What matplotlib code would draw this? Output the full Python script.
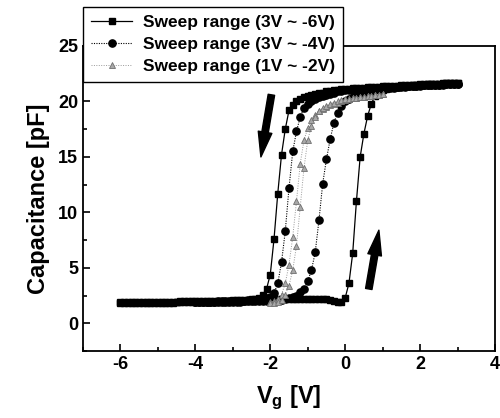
import numpy as np
import matplotlib
matplotlib.use("Agg")
import matplotlib.pyplot as plt
from matplotlib.ticker import MultipleLocator

plt.rcParams['font.family'] = ['Liberation Sans', 'DejaVu Sans']
plt.rcParams['font.weight'] = 'bold'
plt.rcParams['axes.unicode_minus'] = False
plt.rcParams['mathtext.fontset'] = 'custom'
plt.rcParams['mathtext.rm'] = 'Liberation Sans:bold'
plt.rcParams['mathtext.bf'] = 'Liberation Sans:bold'
plt.rcParams['mathtext.it'] = 'Liberation Sans:bold'

# sweep voltage grids (0.1 V steps), taken from the legend ranges
v_sq_down = np.round(np.linspace(3.0, -6.0, 91), 1)
v_ci_down = np.round(np.linspace(3.0, -4.0, 71), 1)
v_tr_down = np.round(np.linspace(1.0, -2.0, 31), 1)

# capacitance [pF]
c_sq_down = [21.7, 21.7, 21.7, 21.7, 21.7, 21.6, 21.6, 21.6, 21.6, 21.6,
             21.6, 21.5, 21.5, 21.5, 21.5, 21.5, 21.4, 21.4, 21.4, 21.4,
             21.4, 21.3, 21.3, 21.3, 21.3, 21.2, 21.2, 21.2, 21.2, 21.1,
             21.1, 21.1, 21.0, 21.0, 20.9, 20.9, 20.8, 20.8, 20.7, 20.6,
             20.5, 20.4, 20.2, 20.0, 19.7, 19.2, 17.5, 15.2, 11.7, 7.6,
             4.4, 3.1, 2.6, 2.3, 2.2, 2.2, 2.1, 2.1, 2.1, 2.1,
             2.1, 2.0, 2.0, 2.0, 2.0, 2.0, 2.0, 2.0, 2.0, 2.0,
             2.0, 2.0, 2.0, 2.0, 2.0, 1.9, 1.9, 1.9, 1.9, 1.9,
             1.9, 1.9, 1.9, 1.9, 1.9, 1.9, 1.9, 1.9, 1.9, 1.9,
             1.9]
c_sq_up = [1.8, 1.8, 1.8, 1.8, 1.8, 1.8, 1.8, 1.8, 1.8, 1.8,
           1.8, 1.8, 1.8, 1.8, 1.8, 1.9, 1.9, 1.9, 1.9, 1.9,
           1.9, 1.9, 1.9, 1.9, 1.9, 1.9, 1.9, 1.9, 1.9, 1.9,
           2.0, 2.0, 2.0, 2.0, 2.0, 2.0, 2.1, 2.1, 2.1, 2.1,
           2.1, 2.2, 2.2, 2.2, 2.2, 2.2, 2.2, 2.2, 2.2, 2.2,
           2.2, 2.2, 2.2, 2.2, 2.2, 2.2, 2.1, 2.0, 1.9, 1.9,
           2.3, 3.6, 6.3, 11.0, 15.0, 17.1, 18.7, 19.8, 20.5, 20.8,
           21.0, 21.1, 21.2, 21.3, 21.3, 21.4, 21.4, 21.4, 21.5, 21.5,
           21.5, 21.5, 21.6, 21.6, 21.6, 21.6, 21.6, 21.7, 21.7, 21.7,
           21.7]

c_ci_down = [21.6, 21.6, 21.6, 21.6, 21.6, 21.5, 21.5, 21.5, 21.5, 21.5,
             21.5, 21.4, 21.4, 21.4, 21.4, 21.4, 21.3, 21.3, 21.3, 21.3,
             21.3, 21.2, 21.2, 21.2, 21.2, 21.1, 21.1, 21.1, 21.0, 21.0,
             21.0, 20.9, 20.9, 20.8, 20.7, 20.6, 20.5, 20.4, 20.2, 20.0,
             19.8, 19.4, 18.6, 17.3, 15.5, 12.2, 8.3, 5.5, 3.6, 2.7,
             2.4, 2.3, 2.2, 2.2, 2.1, 2.1, 2.1, 2.0, 2.0, 2.0,
             2.0, 2.0, 2.0, 2.0, 2.0, 1.9, 1.9, 1.9, 1.9, 1.9,
             1.9]
c_ci_up = [1.9, 1.9, 1.9, 1.9, 1.9, 1.9, 1.9, 1.9, 1.9, 1.9,
           1.9, 1.9, 1.9, 2.0, 2.0, 2.0, 2.0, 2.0, 2.0, 2.0,
           2.0, 2.0, 2.1, 2.1, 2.2, 2.3, 2.4, 2.5, 2.8, 3.1,
           3.8, 4.8, 6.4, 9.3, 12.6, 14.8, 16.6, 18.1, 19.0, 19.6,
           20.0, 20.2, 20.4, 20.5, 20.7, 20.8, 20.9, 21.0, 21.0, 21.1,
           21.1, 21.2, 21.2, 21.2, 21.3, 21.3, 21.3, 21.4, 21.4, 21.4,
           21.4, 21.5, 21.5, 21.5, 21.5, 21.5, 21.5, 21.6, 21.6, 21.6,
           21.6]

c_tr_down = [20.7, 20.6, 20.6, 20.5, 20.5, 20.4, 20.4, 20.3, 20.3, 20.2,
             20.1, 20.0, 19.9, 19.8, 19.7, 19.5, 19.3, 19.1, 18.8, 18.3,
             17.6, 16.5, 14.4, 11.0, 7.8, 5.3, 3.6, 2.6, 2.2, 2.0,
             1.9]
c_tr_up = [1.8, 1.8, 1.9, 2.1, 2.6, 3.4, 4.8, 7.0, 10.5, 14.0,
           16.5, 17.8, 18.6, 19.1, 19.4, 19.6, 19.8, 19.9, 20.0, 20.1,
           20.2, 20.2, 20.3, 20.3, 20.4, 20.4, 20.5, 20.5, 20.6, 20.6,
           20.7]

labels = ['Sweep range (3V ~ -6V)', 'Sweep range (3V ~ -4V)',
          'Sweep range (1V ~ -2V)']

fig = plt.figure(figsize=(5, 4.18), dpi=100)
ax = fig.add_axes([0.166, 0.160, 0.824, 0.730])

# squares, solid line
ax.plot(np.concatenate([v_sq_down, v_sq_down[::-1]]), c_sq_down + c_sq_up,
        '-', color='k', lw=0.9, marker='s', ms=5.0, mfc='k', mec='k',
        label=labels[0])
# circles, dotted line
ax.plot(np.concatenate([v_ci_down, v_ci_down[::-1]]), c_ci_down + c_ci_up,
        color='k', lw=0.8, ls=(0, (1, 1.2)), marker='o', ms=5.2,
        mfc='k', mec='k', label=labels[1])
# triangles, grey
ax.plot(np.concatenate([v_tr_down, v_tr_down[::-1]]), c_tr_down + c_tr_up,
        color='#999999', lw=0.7, ls=(0, (1, 1.5)), marker='^', ms=5.0,
        mfc='#a8a8a8', mec='#707070', mew=0.6, label=labels[2])

# sweep direction arrows
arrow = dict(arrowstyle='simple,head_length=1.0,head_width=0.55,tail_width=0.26',
             color='k', mutation_scale=18, shrinkA=0, shrinkB=0)
ax.annotate('', xy=(-2.25, 15.0), xytext=(-1.97, 20.6), arrowprops=arrow)
ax.annotate('', xy=(0.9, 8.4), xytext=(0.63, 3.1), arrowprops=arrow)

ax.set_xlim(-7, 4)
ax.set_ylim(-2.5, 25)
ax.xaxis.set_major_locator(MultipleLocator(2))
ax.xaxis.set_minor_locator(MultipleLocator(1))
ax.yaxis.set_major_locator(MultipleLocator(5))
ax.yaxis.set_minor_locator(MultipleLocator(2.5))
ax.tick_params(which='both', direction='in', labelsize=13, width=1.2)
ax.tick_params(which='major', length=5)
ax.tick_params(which='minor', length=3)
for s in ax.spines.values():
    s.set_linewidth(1.3)

ax.set_xlabel(r'$\mathbf{V_g}$ [V]', fontsize=17, fontweight='bold', labelpad=8)
ax.set_ylabel('Capacitance [pF]', fontsize=17, fontweight='bold', labelpad=6)

leg = ax.legend(loc='upper left', bbox_to_anchor=(0.0, 1.128), borderaxespad=0,
                fontsize=12.5, frameon=True, fancybox=False, edgecolor='k',
                framealpha=1, handlelength=2.4, labelspacing=0.4,
                handletextpad=0.6, borderpad=0.45)
leg.get_frame().set_linewidth(1.0)

fig.savefig('out.png', dpi=100)
